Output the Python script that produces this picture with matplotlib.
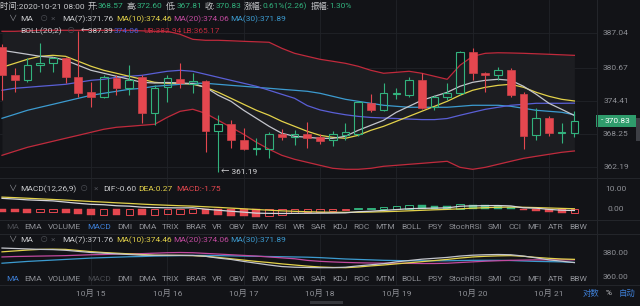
import matplotlib
matplotlib.use('Agg')
import matplotlib.pyplot as plt
from matplotlib.patches import Rectangle
from matplotlib.lines import Line2D
from matplotlib.transforms import blended_transform_factory as blend
import numpy as np

# 4h candles, 2020-10-13 20:00 .. 2020-10-21 08:00
opens = [384.5, 379.2, 378.3, 381.1, 381.5, 382.4, 378.9, 376.1, 375.2, 378.7,
         376.8, 378.9, 372.2, 377.0, 378.5, 377.7, 378.2, 368.9, 370.2, 367.2,
         365.5, 365.6, 368.3, 367.7, 368.3, 367.7, 367.2, 368.1, 368.3, 374.0,
         372.8, 375.7, 375.5, 378.3, 373.3, 375.2, 375.9, 383.5, 379.6, 379.2,
         380.2, 375.7, 368.1, 371.3, 368.5, 368.57]
highs = [385.0, 380.5, 382.4, 385.2, 382.6, 382.6, 387.39, 378.0, 379.3, 379.2,
         381.1, 379.2, 377.4, 379.2, 381.5, 379.6, 378.4, 371.8, 370.9, 369.4,
         367.6, 368.7, 369.3, 369.0, 370.5, 368.4, 368.9, 370.3, 374.4, 375.7,
         377.8, 376.9, 378.9, 379.6, 375.6, 377.8, 383.7, 384.4, 379.8, 380.8,
         380.5, 376.1, 373.1, 371.6, 370.4, 372.60]
lows = [374.6, 376.1, 378.0, 379.8, 379.8, 377.8, 375.2, 373.3, 375.0, 375.5,
        375.5, 370.3, 370.0, 374.2, 376.8, 375.9, 365.0, 361.19, 365.7, 365.4,
        364.4, 363.9, 367.2, 366.3, 365.7, 366.4, 366.1, 367.2, 368.0, 372.4,
        372.6, 374.8, 375.2, 373.0, 372.8, 374.6, 375.6, 378.3, 376.1, 378.3,
        375.2, 365.5, 367.2, 368.0, 366.6, 367.81]
closes = [379.2, 378.3, 381.1, 381.6, 382.4, 378.9, 376.0, 375.2, 378.9, 376.8,
          378.3, 372.2, 376.8, 378.7, 377.8, 378.2, 368.9, 370.2, 367.2, 365.5,
          365.8, 368.3, 367.7, 368.3, 367.6, 367.0, 368.3, 368.7, 374.2, 372.8,
          375.9, 375.9, 378.3, 373.1, 375.2, 375.9, 383.5, 379.6, 379.3, 380.2,
          375.5, 367.9, 371.3, 368.5, 368.7, 370.83]

ma7 = [383.88, 383.51, 383.14, 382.76, 382.58, 382.02, 381.09, 380.16, 379.61, 379.05,
       378.49, 377.93, 377.8, 377.9, 377.8, 377.7, 377.00, 375.52, 374.40, 372.73,
       371.24, 369.75, 368.45, 367.90, 367.71, 367.52, 367.52, 367.90, 369.01, 369.94,
       370.87, 372.36, 373.47, 374.59, 375.33, 376.07, 377.19, 377.93, 378.30, 378.49,
       378.30, 377.19, 375.70, 374.03, 372.91, 371.76]
ma10 = [380.72, 381.46, 382.21, 382.76, 382.95, 382.76, 381.84, 380.91, 380.16, 379.61,
        379.05, 378.49, 377.93, 377.75, 377.75, 377.56, 377.00, 376.07, 374.96, 373.84,
        372.73, 371.80, 370.68, 369.75, 368.82, 368.08, 367.71, 367.52, 368.08, 369.01,
        369.75, 370.68, 371.61, 372.54, 373.47, 374.40, 375.52, 376.45, 377.00, 377.37,
        377.56, 377.00, 376.07, 375.33, 374.77, 374.46]
ma20 = [376.45, 376.82, 377.00, 377.19, 377.37, 377.56, 377.93, 378.30, 378.49, 378.86,
        379.05, 379.23, 379.61, 379.98, 380.16, 379.98, 379.42, 378.86, 378.30, 377.75,
        377.19, 376.45, 375.70, 374.96, 373.60, 372.80, 372.30, 371.90, 371.60, 371.40,
        371.30, 371.20, 371.10, 371.00, 371.00, 371.20, 371.80, 372.36, 372.91, 373.29,
        373.66, 373.84, 374.03, 374.03, 374.03, 374.06]
ma30 = [371.24, 371.98, 372.73, 373.29, 373.84, 374.40, 374.96, 375.52, 375.89, 376.26,
        376.63, 376.82, 377.19, 377.37, 377.56, 377.75, 377.75, 377.56, 377.37, 377.19,
        377.00, 376.82, 376.63, 376.45, 376.26, 375.89, 375.33, 374.77, 374.40, 374.03,
        373.66, 373.47, 373.29, 373.29, 373.29, 373.29, 373.47, 373.66, 373.66, 373.66,
        373.47, 373.10, 372.73, 372.54, 372.36, 371.89]
boll_ub = [387.41, 387.41, 387.50, 387.60, 387.60, 387.60, 387.60, 387.60, 387.60, 387.60,
           387.60, 387.50, 387.41, 387.41, 386.85, 385.92, 385.74, 385.74, 385.65, 385.55,
           385.46, 385.37, 384.25, 383.32, 382.76, 382.21, 381.84, 381.46, 380.91, 380.16,
           379.61, 379.79, 379.98, 379.61, 379.05, 378.49, 381.09, 382.76, 383.32, 383.42,
           383.38, 383.32, 383.23, 383.14, 383.04, 382.94]
boll_lb = [364.36, 365.11, 365.85, 366.41, 366.97, 367.53, 368.08, 368.64, 369.20, 369.57,
           369.75, 369.94, 370.13, 371.43, 372.54, 372.92, 372.17, 370.87, 369.57, 368.27,
           366.78, 365.48, 364.36, 363.62, 363.06, 362.50, 361.95, 361.76, 361.76, 361.95,
           362.32, 362.50, 362.69, 362.87, 363.06, 363.25, 362.13, 361.76, 362.13, 362.69,
           363.25, 363.80, 364.18, 364.55, 364.92, 365.17]

macd_hist = [-1.2, -1.4, -1.6, -1.5, -1.4, -2.0, -2.5, -2.8, -2.6, -2.9,
             -2.7, -3.0, -2.8, -2.5, -2.1, -1.6, -2.4, -2.8, -3.1, -3.3,
             -3.6, -3.1, -2.6, -2.0, -1.5, -1.1, -0.8, -0.5, 0.5, 0.8,
             1.3, 1.7, 2.1, 1.9, 1.7, 1.5, 2.5, 2.3, 2.0, 1.7,
             1.1, -0.5, -0.6, -1.4, -1.8, -1.75]
dif = [5.4, 5.05, 4.65, 4.4, 4.15, 3.55, 2.95, 2.45, 2.25, 1.75,
       1.55, 1.05, 0.85, 0.75, 0.7, 0.75, 0.05, -0.45, -0.95, -1.4,
       -1.9, -2.0, -2.05, -2.0, -1.95, -1.9, -1.85, -1.75, -1.2, -0.95,
       -0.55, -0.15, 0.3, 0.45, 0.6, 0.7, 1.5, 1.7, 1.8, 1.85,
       1.65, 0.75, 0.55, -0.05, -0.45, -0.60]
dea = [6.0, 5.75, 5.45, 5.15, 4.85, 4.55, 4.2, 3.85, 3.55, 3.2,
       2.9, 2.55, 2.25, 2.0, 1.75, 1.55, 1.25, 0.95, 0.6, 0.25,
       -0.1, -0.45, -0.75, -1.0, -1.2, -1.35, -1.45, -1.5, -1.45, -1.35,
       -1.2, -1.0, -0.75, -0.5, -0.25, -0.05, 0.25, 0.55, 0.8, 1.0,
       1.1, 1.0, 0.85, 0.65, 0.45, 0.27]

date_idx = [7, 13, 19, 25, 31, 37, 43]
date_labels = ['10月 15', '10月 16', '10月 17', '10月 18', '10月 19', '10月 20', '10月 21']
price_ticks = [387.04, 380.67, 374.41, 368.25, 362.19]
macd_ticks = [10.00, 0.00]
ma_ticks = [380.00, 360.00]
tabs = ['MA', 'EMA', 'VOLUME', 'MACD', 'DMI', 'DMA', 'TRIX', 'BRAR', 'VR', 'OBV', 'EMV',
        'RSI', 'WR', 'SAR', 'KDJ', 'ROC', 'MTM', 'BOLL', 'PSY', 'StochRSI', 'SMI', 'CCI',
        'MFI', 'ATR', 'BBW']

BG = '#121317'
BAND = '#1c1d21'
GRID = '#212328'
TXT = '#c9cacd'
GRAY = '#8e9096'
DIM = '#4a4c52'
BLUE = '#3e7fd6'
GREEN = '#32b27d'
RED = '#e4474f'
BRED = '#c02a3c'
C7, C10, C20, C20M, C30 = '#c3c5cc', '#e3d24a', '#5a5fd6', '#c24a9f', '#3c9bd0'

plt.rcParams['font.family'] = ['Roboto', 'Noto Sans CJK SC', 'DejaVu Sans']
W, H = 640, 306
fig = plt.figure(figsize=(6.4, 3.06), dpi=100, facecolor=BG)
r = fig.canvas.get_renderer()


def rect(x0, y0, x1, y1):
    return [x0 / W, 1 - y1 / H, (x1 - x0) / W, (y1 - y0) / H]


def put(x, y, s, color, size=6, ha='left'):
    return fig.text(x / W, 1 - y / H, s, color=color, fontsize=size, ha=ha, va='center')


STEP = 12.72
xlo = -2.0 / STEP
xhi = xlo + 597 / STEP

ax = fig.add_axes(rect(0, 0, 597, 178))
axm = fig.add_axes(rect(0, 178, 597, 220))
axa = fig.add_axes(rect(0, 234, 597, 285))
for a in (ax, axm, axa):
    a.axis('off')
    a.set_xlim(xlo, xhi)
ax.set_ylim(387.04 - (178 - 33.3) / 5.38, 387.04 + 33.3 / 5.38)
axm.set_ylim(-(220 - 209.3) / 2.03, (209.3 - 178) / 2.03)
axa.set_ylim(380 - (285 - 252.7) / 1.2, 380 + (252.7 - 234) / 1.2)

x = np.arange(len(opens))
o, h, l, c = map(np.array, (opens, highs, lows, closes))

# grid
for v in price_ticks:
    ax.axhline(v, color=GRID, lw=0.6, zorder=0)
for a in (ax, axm, axa):
    for i in date_idx:
        a.axvline(i, color=GRID, lw=0.6, zorder=0)

# bollinger band + moving averages
ax.fill_between(x, boll_lb, boll_ub, color=BAND, lw=0, zorder=0.5)
ax.plot(x, boll_ub, color=BRED, lw=0.9, zorder=2)
ax.plot(x, boll_lb, color=BRED, lw=0.9, zorder=2)
ax.plot(x, ma30, color=C30, lw=0.9, zorder=2)
ax.plot(x, ma20, color=C20, lw=0.9, zorder=2)
ax.plot(x, ma10, color=C10, lw=0.9, zorder=2)
ax.plot(x, ma7, color=C7, lw=0.9, zorder=2)

# candles
up = c >= o
top = np.maximum(o, c)
bot = np.minimum(o, c)
hgt = np.maximum(top - bot, 0.18)
cols = np.where(up, GREEN, RED)
ax.vlines(x, top, h, colors=cols, lw=0.8, zorder=3)
ax.vlines(x, l, bot, colors=cols, lw=0.8, zorder=3)
ax.bar(x[up], hgt[up], bottom=bot[up], width=0.6, facecolor='none',
       edgecolor=GREEN, lw=0.8, zorder=3)
ax.bar(x[~up], hgt[~up], bottom=bot[~up], width=0.62, facecolor=RED,
       edgecolor=RED, lw=0.4, zorder=3)

imax = int(np.argmax(h))
imin = int(np.argmin(l))
ax.annotate('←%.2f' % h[imax], xy=(imax, h[imax]), xytext=(2, 0),
            textcoords='offset points', va='center', color='#d8d8da', fontsize=5.8,
            annotation_clip=False, zorder=5)
ax.annotate('← %.2f' % l[imin], xy=(imin, l[imin]), xytext=(2, 0),
            textcoords='offset points', va='center', color='#d8d8da', fontsize=6,
            annotation_clip=False, zorder=5)

# macd
hist = np.array(macd_hist)
prev = np.concatenate([[hist[0]], hist[:-1]])
rising = hist > prev
for i, v in enumerate(hist):
    col = GREEN if v >= 0 else RED
    if rising[i]:
        axm.bar(i, v, width=0.58, facecolor='none', edgecolor=col, lw=0.7, zorder=3)
    else:
        axm.bar(i, v, width=0.62, facecolor=col, edgecolor=col, lw=0.3, zorder=3)
axm.plot(x, dea, color=C10, lw=0.9, zorder=4)
axm.plot(x, dif, color='#d4d5da', lw=0.9, zorder=4)

# MA sub panel
axa.plot(x, ma30, color=C30, lw=0.9)
axa.plot(x, ma20, color=C20M, lw=0.9)
axa.plot(x, ma10, color=C10, lw=0.9)
axa.plot(x, ma7, color=C7, lw=0.9)

# separators
for yy in (178, 220, 234, 285):
    fig.add_artist(Line2D([0, 1], [1 - yy / H] * 2, color='#24262b', lw=0.7))
fig.add_artist(Line2D([597 / W] * 2, [1 - 285 / H, 1], color='#24262b', lw=0.7))

# right-side labels
tr = blend(fig.transFigure, ax.transData)
for v in price_ticks:
    fig.text(616 / W, v, '%.2f' % v, transform=tr, color=GRAY, fontsize=6,
             ha='center', va='center')
tm = blend(fig.transFigure, axm.transData)
for v in macd_ticks:
    fig.text(616 / W, v, '%.2f' % v, transform=tm, color=GRAY, fontsize=6,
             ha='center', va='center')
ta = blend(fig.transFigure, axa.transData)
for v in ma_ticks:
    fig.text(616 / W, v, '%.2f' % v, transform=ta, color=GRAY, fontsize=6,
             ha='center', va='center')

yp = ax.transData.transform((0, c[-1]))[1]
fig.add_artist(Rectangle((596 / W, (yp - 6) / H), 40 / W, 12 / H, transform=fig.transFigure,
                         facecolor='#2f9c6c', edgecolor='none'))
fig.text(601 / W, yp / H, '-', color='white', fontsize=6, va='center')
fig.text(618 / W, yp / H, '%.2f' % c[-1], color='white', fontsize=6, ha='center', va='center')
fig.add_artist(Rectangle((636 / W, 1 - 141 / H), 4 / W, 23 / H, transform=fig.transFigure,
                         facecolor='#3d3f45', edgecolor='none'))
fig.add_artist(Rectangle((310 / W, 1 - 304 / H), 33 / W, 3 / H, transform=fig.transFigure,
                         facecolor='#35373c', edgecolor='none'))

# date labels
td = blend(ax.transData, fig.transFigure)
for i, s in zip(date_idx, date_labels):
    fig.text(i, 1 - 293 / H, s, transform=td, color=GRAY, fontsize=6, ha='center', va='center')
put(583, 293, '对数', BLUE)
put(606, 293, '%', TXT)
put(619, 293, '自动', BLUE)


def run(x0, y, parts):
    xx = x0
    for s, col, gap in parts:
        t = put(xx, y, s, col)
        xx += t.get_window_extent(r).width + gap


run(0, 6, [('时间:2020-10-21 08:00', TXT, 3), ('开:', TXT, 0), ('368.57', GREEN, 3),
           ('高:', TXT, 0), ('372.60', GREEN, 3), ('低:', TXT, 0), ('367.81', GREEN, 3),
           ('收:', TXT, 0), ('370.83', GREEN, 3), ('涨幅:', TXT, 0), ('0.61%(2.26)', GREEN, 3),
           ('振幅:', TXT, 0), ('1.30%', GREEN, 0)])


def ma_header(y):
    put(8, y, '∨', GRAY)
    put(20, y, 'MA', TXT)
    put(40, y, '⊙', DIM)
    put(51, y, '×', DIM)
    put(62, y, 'MA(7):371.76', TXT)
    put(116, y, 'MA(10):374.46', C10)
    put(173, y, 'MA(20):374.06', C20M)
    put(230, y, 'MA(30):371.89', C30)


ma_header(19)
ma_header(240)
put(20, 31, 'BOLL(20,2)', TXT)
put(67, 31, '⊙', DIM)
put(114, 31, '374.06', '#4f5fd8')
put(143, 31, 'UB:382.94', BRED)
put(182, 31, 'LB:365.17', BRED)

put(8, 189, '∨', GRAY)
put(20, 189, 'MACD(12,26,9)', TXT)
put(80, 189, '⊙', DIM)
put(94, 189, '×', DIM)
put(103, 189, 'DIF:-0.60', TXT)
put(138, 189, 'DEA:0.27', C10)
put(176, 189, 'MACD:-1.75', RED)


def tab_row(y, active, dim):
    ts = []
    for s in tabs:
        col = BLUE if s == active else (DIM if s == dim else GRAY)
        ts.append(put(0, y, s, col))
    ws = [t.get_window_extent(r).width for t in ts]
    gap = (587 - 6 - sum(ws)) / (len(ts) - 1)
    xx = 6
    for t, w in zip(ts, ws):
        t.set_x(xx / W)
        xx += w + gap


tab_row(227, 'MACD', 'MA')
tab_row(279, 'MA', 'MACD')

fig.savefig('out.png', dpi=100, facecolor=BG)
